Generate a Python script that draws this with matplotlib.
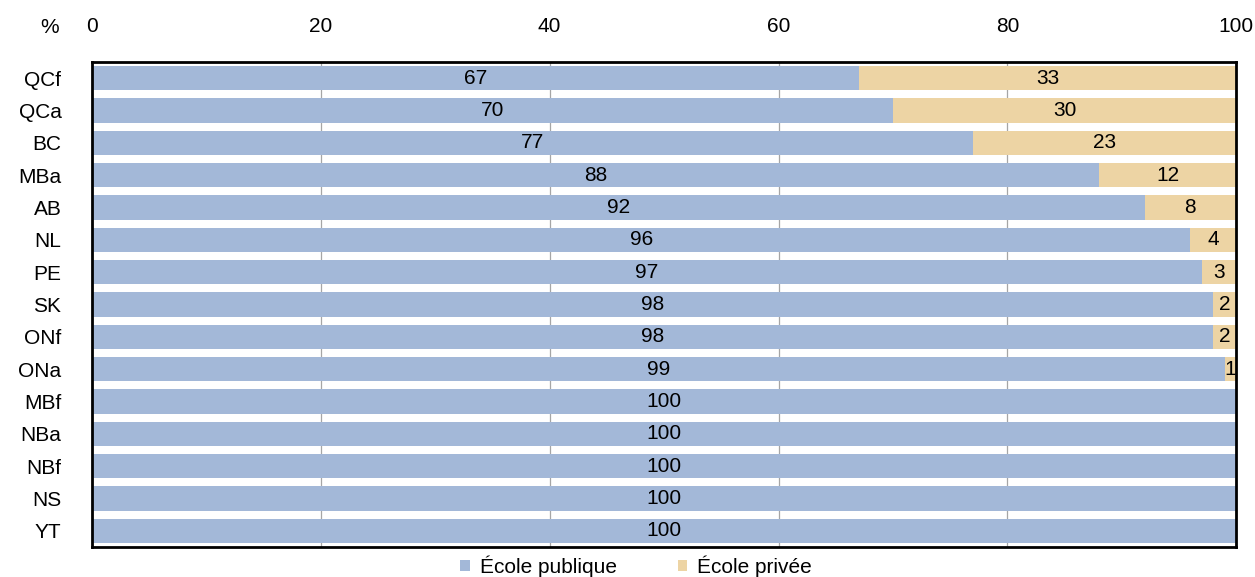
import numpy as np
import matplotlib.pyplot as plt

plt.rcParams['font.family'] = ['Liberation Sans', 'DejaVu Sans']

regions = ['QCf', 'QCa', 'BC', 'MBa', 'AB', 'NL', 'PE', 'SK', 'ONf', 'ONa',
           'MBf', 'NBa', 'NBf', 'NS', 'YT']
publique = [67, 70, 77, 88, 92, 96, 97, 98, 98, 99, 100, 100, 100, 100, 100]
privee = [33, 30, 23, 12, 8, 4, 3, 2, 2, 1, 0, 0, 0, 0, 0]

c_pub = '#A3B8D8'
c_priv = '#EDD4A4'
fs = 15

fig = plt.figure(figsize=(12.55, 5.77), dpi=100)
ax = fig.add_axes([0.0733, 0.052, 0.9117, 0.8405])

y = np.arange(len(regions))
ax.barh(y, publique, height=0.75, color=c_pub, label='École publique', zorder=2)
ax.barh(y, privee, left=publique, height=0.75, color=c_priv, label='École privée', zorder=2)

# valeurs au centre de chaque segment
for i in range(len(regions)):
    ax.text(publique[i] / 2, y[i], str(publique[i]), ha='center', va='center', fontsize=fs, zorder=3)
    if privee[i] > 0:
        ax.text(publique[i] + privee[i] / 2, y[i], str(privee[i]), ha='center', va='center',
                fontsize=fs, zorder=3)

ax.set_xlim(0, 100)
ax.set_ylim(len(regions) - 0.5, -0.5)
ax.set_yticks(y)
ax.set_yticklabels(regions, fontsize=fs)
ax.set_xticks([0, 20, 40, 60, 80, 100])
ax.xaxis.tick_top()
ax.tick_params(axis='x', labelsize=fs, length=0, pad=19)
ax.tick_params(axis='y', length=0, pad=22)
ax.grid(axis='x', color='#A6A6A6', linewidth=0.9, zorder=1)
for s in ax.spines.values():
    s.set_linewidth(2)
    s.set_color('black')

fig.text(0.0398, 0.953, '%', fontsize=fs, ha='center', va='center')

fig.legend(loc='center', bbox_to_anchor=(0.507, 0.019), ncol=2, frameon=False,
           fontsize=fs, handlelength=0.45, handleheight=0.45, columnspacing=2.9,
           handletextpad=0.5, borderpad=0.0)

fig.savefig('out.png', dpi=100)
